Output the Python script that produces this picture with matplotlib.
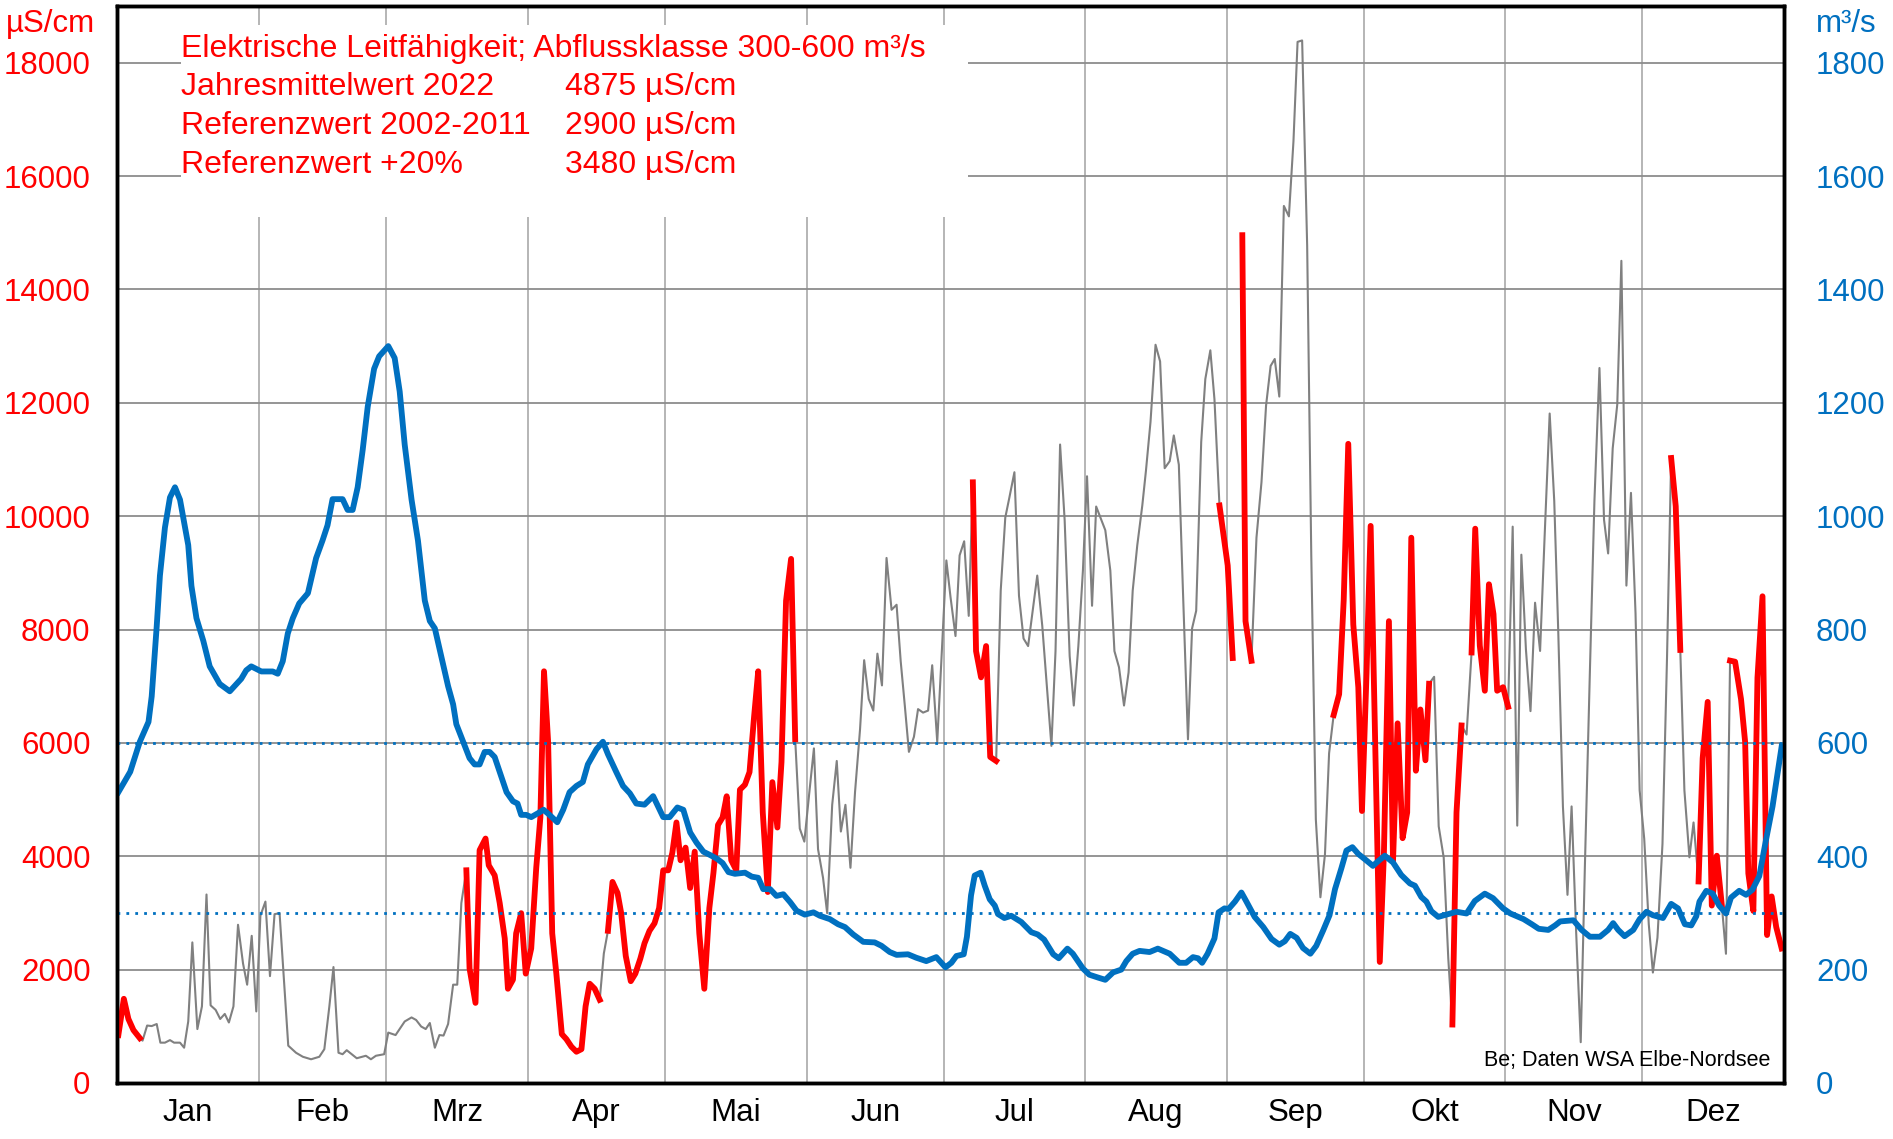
import numpy as np
import matplotlib
matplotlib.use('Agg')
import matplotlib.pyplot as plt
from matplotlib.patches import Rectangle

plt.rcParams['font.family'] = ['Liberation Sans', 'DejaVu Sans']

# Leitfähigkeit µS/cm
lf_tag = [0.3, 1.5, 2.5, 3.6, 5.0, 5.6, 6.6, 7.6, 8.7, 9.5, 10.5, 11.6, 12.5, 13.8, 14.7, 15.6, 16.5, 17.6, 18.6, 19.6,
          20.5, 21.6, 22.6, 23.6, 24.5, 25.5, 26.5, 27.6, 28.5, 29.5, 30.5, 31.4, 32.5, 33.5, 34.5, 35.6, 37.5, 39.2, 40.7, 42.5,
          44.3, 45.4, 46.5, 47.4, 48.5, 49.4, 50.3, 51.4, 52.5, 54.5, 55.6, 56.7, 58.5, 59.4, 61.0, 63.0, 64.5, 65.5, 66.6, 67.6,
          68.5, 69.6, 70.6, 71.5, 72.5, 73.6, 74.5, 75.4, 76.5, 77.2, 78.5, 79.4, 80.7, 81.4, 82.7, 83.8, 84.9, 85.6, 86.7, 87.4,
          88.5, 89.5, 90.7, 91.8, 92.7, 93.5, 94.4, 95.3, 96.2, 97.4, 98.4, 99.5, 100.6, 101.7, 102.6, 103.5, 104.6, 105.7, 106.6, 107.5,
          108.5, 109.6, 110.4, 111.4, 112.5, 113.5, 114.6, 115.5, 116.6, 117.7, 118.7, 119.6, 120.7, 121.6, 122.5, 123.4, 124.5, 125.5, 126.5, 127.5,
          128.6, 129.7, 130.6, 131.6, 132.6, 133.5, 134.5, 135.6, 136.4, 137.5, 138.5, 139.5, 140.4, 141.4, 142.5, 143.5, 144.6, 145.5, 146.5, 147.6,
          148.5, 149.5, 150.5, 151.6, 152.6, 153.5, 154.6, 155.5, 156.6, 157.6, 158.5, 159.5, 160.6, 161.6, 162.7, 163.6, 164.6, 165.6, 166.5, 167.5,
          168.5, 169.6, 170.7, 171.6, 172.5, 173.4, 174.5, 175.4, 176.5, 177.6, 178.5, 179.6, 180.5, 181.6, 182.5, 183.6, 184.5, 185.5, 186.5, 187.4,
          188.1, 189.2, 190.3, 191.2, 192.5, 193.5, 194.5, 195.4, 196.5, 197.5, 198.5, 199.5, 201.5, 202.6, 203.6, 204.6, 205.5, 206.5, 207.5, 208.6,
          209.5, 210.5, 211.5, 212.4, 213.5, 214.4, 216.4, 217.5, 218.4, 219.4, 220.5, 221.5, 222.4, 223.4, 224.5, 225.3, 226.3, 227.4, 228.4, 229.4,
          230.5, 231.4, 232.5, 233.4, 234.5, 235.4, 236.3, 237.4, 238.3, 239.4, 240.3, 241.4, 242.3, 243.2, 244.3, 245.4, 246.4, 247.1, 248.4, 249.5,
          250.6, 251.6, 252.6, 253.5, 254.5, 255.5, 256.6, 257.6, 258.5, 259.5, 260.6, 261.5, 262.5, 263.5, 264.5, 265.4, 266.4, 267.6, 268.6, 269.6,
          270.7, 271.8, 272.6, 273.6, 274.5, 275.4, 276.5, 277.4, 278.5, 279.4, 280.4, 281.5, 282.5, 283.4, 284.4, 285.4, 286.5, 287.3, 288.4, 289.4,
          290.5, 291.5, 292.4, 293.3, 294.4, 295.5, 296.6, 297.4, 298.4, 299.5, 300.4, 301.4, 302.2, 303.5, 304.6, 305.6, 306.6, 307.5, 308.5, 309.5,
          310.5, 311.6, 312.6, 313.7, 314.7, 315.6, 316.6, 317.6, 318.5, 319.5, 320.5, 321.4, 322.5, 323.5, 324.6, 325.6, 326.5, 327.5, 328.5, 329.4,
          330.5, 331.5, 332.5, 333.4, 334.4, 335.4, 336.3, 337.3, 338.4, 339.4, 340.3, 341.3, 342.3, 343.2, 344.3, 345.2, 346.3, 347.2, 348.3, 349.2,
          350.3, 351.4, 352.3, 353.2, 354.3, 355.6, 356.5, 357.2, 358.3, 359.2, 360.3, 361.3, 362.3, 363.3, 364.5]
lf_wert = [845, 1485, 1130, 933, 791, 747, 1013, 1004, 1040, 711, 711, 756, 711, 711, 622, 1085, 2480, 951, 1351, 3325,
           1369, 1289, 1129, 1218, 1067, 1351, 2791, 2107, 1734, 2596, 1262, 2951, 3200, 1885, 2978, 2996, 658, 533, 462, 418,
           462, 596, 1351, 2045, 533, 507, 578, 507, 436, 480, 418, 480, 507, 889, 845, 1085, 1156, 1111, 996, 951,
           1058, 622, 845, 836, 1040, 1734, 1734, 3174, 3752, 2018, 1413, 4107, 4312, 3840, 3663, 3174, 2551, 1662, 1822, 2640,
           2996, 1929, 2374, 3796, 4685, 7263, 6018, 2640, 1929, 862, 773, 640, 551, 596, 1351, 1751, 1662, 1467, 2285, 2685,
           3547, 3352, 2996, 2240, 1796, 1929, 2196, 2463, 2685, 2818, 3085, 3752, 3752, 4063, 4596, 3929, 4152, 3440, 4081, 2640,
           1662, 3085, 3707, 4552, 4685, 5058, 3929, 3752, 5174, 5263, 5485, 6463, 7263, 4774, 3369, 5307, 4507, 5663, 8508, 9246,
           6063, 4489, 4258, 5130, 5903, 4125, 3618, 2996, 4907, 5681, 4436, 4907, 3796, 5130, 6241, 7459, 6774, 6570, 7574, 7014,
           9263, 8348, 8437, 7441, 6659, 5841, 6107, 6596, 6534, 6570, 7370, 6018, 7441, 9219, 8579, 7885, 9308, 9557, 8241, 10597,
           7619, 7156, 7708, 5752, 5681, 8686, 9975, 10330, 10775, 8597, 7841, 7708, 8952, 8063, 6996, 5947, 7619, 11264, 9930, 7530,
           6659, 7708, 9041, 10704, 8419, 10170, 9752, 9041, 7619, 7334, 6659, 7245, 8686, 9486, 10188, 10801, 11664, 13024, 12730, 10846,
           10970, 11424, 10908, 8686, 6063, 8019, 8330, 11308, 12419, 12926, 12063, 10188, 9663, 9130, 7497, np.nan, 14957, 8147, 7448, 9620,
           10601, 11951, 12651, 12773, 12110, 15473, 15289, 16614, 18368, 18393, 14773, 9313, 4650, 3276, 4037, 5816, 6491, 6859, 8515, 11276,
           8086, 6982, 4798, 7227, 9828, 6368, 2135, 4037, 8147, 3914, 6344, 4319, 4773, 9620, 5509, 6589, 5693, 7043, 7166, 4528,
           3975, 2196, 1031, 4773, 6307, 6147, 7595, 9779, 7718, 6920, 8798, 8270, 6920, 6982, 6638, 9815, 4540, 9320, 7650, 6560,
           8473, 7622, 9655, 11811, 10269, 7905, 4879, 3319, 4879, 2657, 719, 3792, 7243, 10269, 12614, 9938, 9342, 11196, 11971, 14505,
           8775, 10411, 8283, 5163, 4312, 2799, 1948, 2563, 4217, 7527, 11026, 10175, 7640, 5163, 3981, 4596, 3555, 5730, 6723, 3130,
           4009, 3130, 2279, 7451, 7432, 6770, 6014, 3697, 3035, 7149, 8586, 2610, 3291, 2752, 2373]

# Zeiträume in der Abflussklasse 300-600 m³/s (rot)
klasse_von = [0.3, 76.5, 107.5, 187.4, 241.4, 246.4, 266.4, 292.4, 296.6, 340.3, 346.3, 353.2]
klasse_bis = [5.0, 105.7, 148.5, 192.5, 244.3, 248.4, 287.3, 294.4, 304.6, 342.3, 351.4, 364.5]

# Abfluss m³/s
q_tag = [0.3, 2.9, 5.0, 6.9, 7.6, 8.7, 9.4, 10.5, 11.6, 12.7, 13.8, 15.6, 16.3, 17.4, 18.9, 20.3, 22.5, 24.7, 27.2, 28.3,
         29.4, 31.6, 34.1, 35.2, 36.3, 37.4, 38.5, 39.9, 41.8, 43.6, 45.0, 46.1, 47.2, 49.4, 50.5, 51.6, 52.7, 53.8, 54.9, 56.3,
         57.4, 59.4, 60.8, 61.9, 63.0, 64.5, 65.9, 67.4, 68.5, 69.6, 71.0, 72.5, 73.6, 74.3, 75.8, 77.2, 78.3, 79.4, 80.5, 81.6,
         82.7, 83.8, 85.3, 86.7, 87.7, 88.5, 89.6, 90.7, 92.2, 93.4, 94.7, 96.4, 97.7, 99.1, 100.6, 102.0, 103.1, 105.0, 106.4, 107.5,
         109.3, 110.8, 112.3, 113.7, 115.5, 117.4, 119.6, 121.0, 122.7, 124.0, 125.5, 126.9, 128.4, 129.9, 131.3, 132.6, 133.9, 135.3, 137.5, 139.0,
         140.4, 141.5, 143.0, 144.4, 145.9, 147.4, 148.8, 150.6, 152.5, 153.9, 156.1, 157.9, 159.4, 161.2, 163.4, 165.9, 167.4, 169.2, 170.7, 173.2,
         175.0, 177.2, 179.4, 181.4, 182.7, 183.8, 185.4, 186.1, 187.0, 187.8, 189.1, 190.0, 191.1, 192.2, 192.9, 194.3, 195.8, 198.0, 200.2, 201.6,
         203.0, 205.0, 206.2, 208.1, 209.3, 211.5, 212.9, 214.8, 216.4, 218.1, 219.9, 221.0, 222.4, 223.9, 226.1, 227.9, 230.5, 232.6, 234.1, 235.6,
         236.7, 237.6, 238.8, 240.3, 241.2, 242.5, 243.4, 244.8, 246.2, 247.3, 249.1, 251.0, 252.8, 254.5, 255.7, 256.9, 258.3, 259.7, 261.3, 262.6,
         264.1, 265.5, 266.7, 268.1, 269.2, 270.5, 271.8, 273.2, 275.0, 276.1, 277.6, 279.4, 281.2, 283.1, 284.2, 285.6, 286.7, 287.8, 289.3, 291.1,
         293.3, 295.5, 297.3, 299.5, 301.3, 303.5, 305.1, 308.0, 309.8, 311.3, 313.4, 314.9, 316.0, 318.9, 320.7, 322.5, 324.7, 326.5, 327.6, 328.7,
         330.1, 332.0, 333.4, 334.9, 336.3, 338.5, 340.3, 341.8, 343.3, 344.7, 345.8, 346.5, 348.0, 349.4, 350.8, 352.3, 353.4, 355.2, 356.7, 358.1,
         359.6, 361.0, 362.5, 364.5]
q_wert = [513, 549, 602, 637, 682, 806, 895, 980, 1033, 1051, 1029, 949, 877, 820, 780, 735, 704, 691, 713, 728,
          735, 726, 726, 722, 744, 793, 820, 846, 864, 926, 957, 984, 1030, 1030, 1011, 1011, 1051, 1117, 1193, 1260,
          1282, 1300, 1279, 1220, 1126, 1029, 957, 851, 815, 802, 753, 700, 668, 633, 602, 573, 562, 562, 584, 584,
          575, 549, 513, 497, 493, 473, 473, 469, 476, 482, 473, 460, 482, 513, 524, 531, 562, 589, 602, 580,
          549, 524, 511, 493, 491, 506, 469, 469, 486, 482, 442, 424, 408, 402, 396, 388, 372, 369, 371, 364,
          362, 342, 342, 330, 333, 319, 304, 297, 301, 295, 289, 280, 275, 262, 249, 248, 242, 231, 226, 227,
          221, 215, 222, 204, 212, 224, 227, 258, 331, 366, 371, 348, 324, 313, 298, 291, 295, 284, 266, 262,
          253, 227, 220, 237, 228, 202, 191, 186, 182, 195, 200, 215, 228, 233, 231, 237, 228, 212, 212, 222,
          220, 212, 228, 255, 301, 308, 307, 320, 336, 320, 293, 275, 254, 244, 250, 263, 256, 238, 228, 242,
          269, 296, 342, 379, 410, 416, 404, 395, 383, 391, 401, 389, 367, 352, 348, 328, 320, 303, 293, 297,
          302, 299, 321, 334, 326, 308, 299, 289, 280, 272, 270, 278, 285, 287, 270, 258, 258, 270, 282, 270,
          259, 270, 289, 302, 296, 291, 316, 308, 280, 278, 294, 320, 339, 334, 313, 299, 327, 339, 332, 341,
          365, 426, 488, 594]

monate = ['Jan', 'Feb', 'Mrz', 'Apr', 'Mai', 'Jun', 'Jul', 'Aug', 'Sep', 'Okt', 'Nov', 'Dez']
monat_start = [0, 31, 59, 90, 120, 151, 181, 212, 243, 273, 304, 334, 365]

legende_links = ['Jahresmittelwert 2022', 'Referenzwert 2002-2011', 'Referenzwert +20%']
legende_rechts = ['4875 µS/cm', '2900 µS/cm', '3480 µS/cm']

ROT = '#FF0000'
BLAU = '#0070C0'
GRAU = '#808080'

lf_tag = np.array(lf_tag)
lf_wert = np.array(lf_wert, dtype=float)
in_klasse = np.zeros(len(lf_tag), dtype=bool)
for a, b in zip(klasse_von, klasse_bis):
    in_klasse |= (lf_tag >= a - 1e-6) & (lf_tag <= b + 1e-6)
lf_rot = np.where(in_klasse, lf_wert, np.nan)

fig = plt.figure(figsize=(18.93, 11.39), dpi=100)
ax = fig.add_axes([0.0618, 0.0492, 0.8806, 0.9455])
ax2 = ax.twinx()
ax2.set_zorder(ax.get_zorder() + 1)
ax2.patch.set_visible(False)

# Grid
ax.set_axisbelow(True)
ax.set_xlim(0, 365)
ax.set_ylim(0, 19000)
ax.set_yticks(range(0, 18001, 2000))
ax.set_xticks(monat_start)
ax.set_xticklabels([])
mitte = [(monat_start[i] + monat_start[i + 1]) / 2 for i in range(12)]
ax.set_xticks(mitte, labels=monate, minor=True)
ax.grid(axis='y', color='#8c8c8c', linewidth=1.3)
ax.grid(axis='x', which='major', color='#b0b0b0', linewidth=1.3)

# weißer Kasten hinter dem Text
ax.add_patch(Rectangle((0.0384, 0.804), 0.472, 0.178, transform=ax.transAxes,
                       facecolor='white', edgecolor='none', zorder=1))

ax.plot(lf_tag, lf_wert, color=GRAU, linewidth=1.5, zorder=2)
ax.plot(lf_tag, lf_rot, color=ROT, linewidth=4.2, zorder=3)

ax2.set_ylim(0, 1900)
ax2.set_yticks(range(0, 1801, 200))
ax2.axhline(300, color=BLAU, linestyle=(0, (1, 2.2)), linewidth=2)
ax2.axhline(600, color=BLAU, linestyle=(0, (1, 2.2)), linewidth=2)
ax2.plot(q_tag, q_wert, color=BLAU, linewidth=4.2)

# Achsen
for a in (ax, ax2):
    for s in a.spines.values():
        s.set_color('black')
        s.set_linewidth(2.5)
ax.tick_params(axis='y', length=0, pad=19, labelsize=22.5, labelcolor=ROT)
ax.tick_params(axis='x', which='both', length=0, pad=11, labelsize=22.5)
ax2.tick_params(axis='y', length=0, pad=23, labelsize=22.5, labelcolor=BLAU)

fig.text(0.003, 0.979, 'µS/cm', color=ROT, fontsize=22.5, va='center', ha='left')
fig.text(0.9595, 0.979, 'm³/s', color=BLAU, fontsize=22.5, va='center', ha='left')

# Beschriftung
ax.text(0.0384, 0.9605, 'Elektrische Leitfähigkeit; Abflussklasse 300-600 m³/s', transform=ax.transAxes,
        color=ROT, fontsize=23, va='center', ha='left', zorder=5)
for i in range(3):
    y = 0.9245 - i * 0.036
    ax.text(0.0384, y, legende_links[i], transform=ax.transAxes, color=ROT, fontsize=23,
            va='center', ha='left', zorder=5)
    ax.text(0.2687, y, legende_rechts[i], transform=ax.transAxes, color=ROT, fontsize=23,
            va='center', ha='left', zorder=5)

ax.text(0.992, 0.021, 'Be; Daten WSA Elbe-Nordsee', transform=ax.transAxes, color='black',
        fontsize=15.5, va='center', ha='right', zorder=5)

fig.savefig('out.png', dpi=100)
